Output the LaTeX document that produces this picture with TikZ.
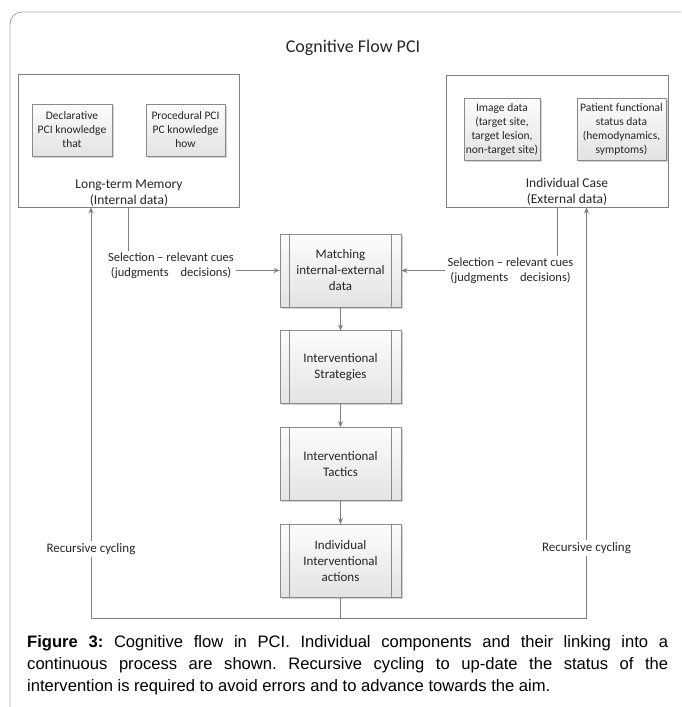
\documentclass[tikz,border=0pt]{standalone}
\usepackage{fontspec}
\setmainfont{Carlito}
\newfontfamily\capfont{Liberation Sans}
\usepackage{xcolor}
\usepackage{tikz}
\usetikzlibrary{arrows.meta,positioning,shadows}
\frenchspacing

\definecolor{linegray}{HTML}{7F7F7F}
\definecolor{boxgray}{HTML}{8A8A8A}
\definecolor{framegray}{HTML}{A8A8A8}
\definecolor{inktext}{HTML}{262626}

\begin{document}
\begin{tikzpicture}[x=1pt,y=-1pt,>={Stealth[length=6pt,width=5pt]},
  link/.style={draw=linegray,line width=0.9pt},
  panel/.style={draw=linegray,line width=0.9pt,inner sep=0pt},
  databox/.style={draw=boxgray,line width=0.8pt,top color=gray!2,bottom color=gray!22,
    drop shadow={shadow xshift=1.5pt,shadow yshift=-1.5pt,fill=black!35,opacity=.5},
    align=center,inner sep=0pt,text=inktext,font=\fontsize{11.5}{14}\selectfont},
  procbox/.style={databox,minimum width=121pt,minimum height=73pt,
    font=\fontsize{13}{16}\selectfont,
    path picture={
      \draw[boxgray,line width=0.8pt] ([xshift=9.5pt]path picture bounding box.north west)
        -- ([xshift=9.5pt]path picture bounding box.south west);
      \draw[boxgray,line width=0.8pt] ([xshift=-9.5pt]path picture bounding box.north east)
        -- ([xshift=-9.5pt]path picture bounding box.south east);}},
  cue/.style={align=center,inner sep=2pt,text=inktext,font=\fontsize{12.5}{15}\selectfont},
  caption/.style={anchor=west,inner sep=0pt,font=\capfont\fontsize{16.6}{22}\selectfont}]
\useasboundingbox (0,0) rectangle (681,707);
\begin{scope}
\clip (0,0) rectangle (681,707);
\draw[framegray,line width=0.9pt,rounded corners=12pt] (10,12) rectangle (760,780);
\end{scope}

\node[text=inktext,font=\fontsize{18}{20}\selectfont] (title) at (353,48) {Cognitive Flow PCI};

% memory and case
\node[panel,minimum width=221pt,minimum height=133pt] (ltm) at (128.5,140.5) {};
\node[databox,minimum width=80pt,minimum height=52pt] (decl) at (72,130) {Declarative\\PCI knowledge\\that};
\node[databox,minimum width=79pt,minimum height=52pt] (proc) at (185.5,130) {Procedural PCI\\PC knowledge\\how};
\node[cue,font=\fontsize{13.5}{16}\selectfont] (ltmtext) at (129,193) {Long-term Memory\\(Internal data)};

\node[panel,minimum width=222pt,minimum height=132pt] (case) at (557,141) {};
\node[databox,minimum width=76pt,minimum height=62pt] (img) at (502,129) {Image data\\(target site,\\target lesion,\\non-target site)};
\node[databox,minimum width=89pt,minimum height=62pt] (pat) at (621.5,129) {Patient functional\\status data\\(hemodynamics,\\symptoms)};
\node[cue,font=\fontsize{13.5}{16}\selectfont] (casetext) at (567,192) {Individual Case\\(External data)};

% processing column
\node[procbox] (match) at (340.5,270.5) {Matching\\internal-external\\data};
\node[procbox,below=23pt of match] (strat) {Interventional\\Strategies};
\node[procbox,below=23pt of strat] (tact) {Interventional\\Tactics};
\node[procbox,below=23pt of tact] (acts) {Individual\\Interventional\\actions};

\node[cue] (selleft) at (171,266) {Selection -- relevant cues\\(judgments\hspace{12pt}decisions)};
\node[cue] (selright) at (510.5,271) {Selection -- relevant cues\\(judgments\hspace{12pt}decisions)};

\draw[link] (ltm.south) -- (ltm.south |- selleft.north);
\draw[link,->] (selleft.east |- match.west) -- (match.west);
\draw[link] (case.south) -- (case.south |- selright.north);
\draw[link,->] (selright.west |- match.east) -- (match.east);

\draw[link,->] (match) -- (strat);
\draw[link,->] (strat) -- (tact);
\draw[link,->] (tact) -- (acts);

% recursive cycling
\coordinate (cycl) at (91,618);
\coordinate (cycr) at (586.5,618);
\draw[link,->] (acts.south) |- (cycl) -- (cycl |- ltm.south);
\draw[link,->] (acts.south) |- (cycr) -- (cycr |- case.south);
\node[cue,fill=white,font=\fontsize{13}{15}\selectfont] (cycltext) at (91,549) {Recursive cycling};
\node[cue,fill=white,font=\fontsize{13}{15}\selectfont] (cycrtext) at (586.5,548) {Recursive cycling};

% caption
\node[caption] (cap1) at (27,643) {\makebox[641pt][s]{\textbf{Figure 3:} Cognitive flow in PCI. Individual components and their linking into a}};
\node[caption] (cap2) at (27,665) {\makebox[641pt][s]{continuous process are shown. Recursive cycling to up-date the status of the}};
\node[caption] (cap3) at (27,687) {intervention is required to avoid errors and to advance towards the aim.};
\end{tikzpicture}
\end{document}
